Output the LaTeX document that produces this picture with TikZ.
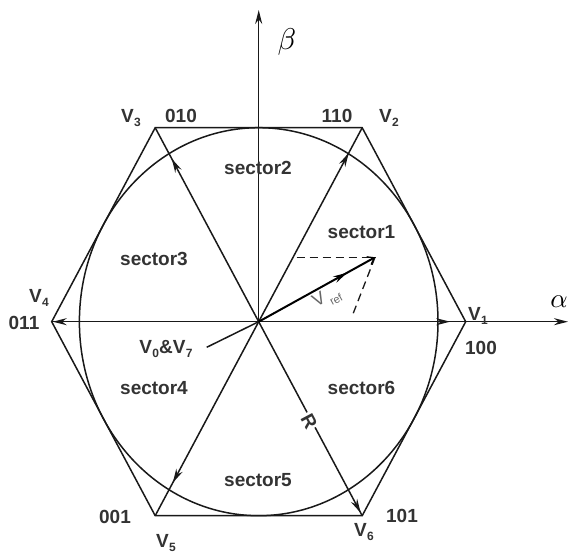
\documentclass[tikz,border=0pt]{standalone}
\usepackage{fontspec}
\setmainfont{Liberation Sans}
\usetikzlibrary{arrows.meta,decorations.markings}
\newcommand{\Vlab}[1]{V\kern0.3pt\raisebox{-0.45ex}{\fontsize{12}{12}\selectfont #1}}
\tikzset{
  ln/.style={line width=1.5pt, draw=black!90},
  vec/.style={ln, postaction={decorate}, decoration={markings, mark=at position #1 with {\arrow{Stealth[length=14pt,width=7pt]}}}},
  lbl/.style={font=\fontsize{19}{19}\selectfont\bfseries, text=black!80, inner sep=0pt},
  dsh/.style={line width=1.3pt, draw=black!90, dash pattern=on 8pt off 5pt},
}
\begin{document}
\begin{tikzpicture}[x=1pt,y=-1pt]
\fill[white] (0,0) rectangle (571,553);
\useasboundingbox (0,0) rectangle (571,553);
% key points
\coordinate (C) at (258.7,321.7);
\coordinate (V1) at (465.7,321.7);
\coordinate (V2) at (362.2,127.7);
\coordinate (V3) at (155.2,127.7);
\coordinate (V4) at (51.7,321.7);
\coordinate (V5) at (155.2,515.7);
\coordinate (V6) at (362.2,515.7);
\coordinate (A) at (568,321.7);
\coordinate (B) at (258.7,10);
\coordinate (T) at (375,257.3);
\coordinate (H) at (296.7,257.3);
\coordinate (F) at (351.7,317.3);
\coordinate (P) at (206.7,347.3);
% hexagon and circle
\draw[ln] (V1) -- (V2) -- (V3) -- (V4) -- (V5) -- (V6) -- cycle;
\draw[ln] (C) ellipse [x radius=179.3pt, y radius=194pt];
% axes
\draw[ln, -{Stealth[length=14pt,width=7pt]}] (C) -- (A);
\draw[ln, -{Stealth[length=14pt,width=7pt]}] (C) -- (B);
% basic vectors
\draw[vec=0.925] (C) -- (V1);
\draw[vec=0.87] (C) -- (V2);
\draw[vec=0.84] (C) -- (V3);
\draw[vec=0.995] (C) -- (V4);
\draw[vec=0.83] (C) -- (V5);
\draw[vec=0.985] (C) -- (V6);
% zero vector pointer
\draw[ln] (P) -- (C);
% reference vector
\draw[dsh] (H) -- (T);
\draw[dsh] (T) -- (F);
\draw[line width=2pt, draw=black, postaction={decorate}, decoration={markings, mark=at position 0.76 with {\arrow{Stealth[length=14pt,width=7pt]}}}, -{Straight Barb[length=6pt,width=9pt,line width=1.2pt]}] (C) -- (T);
% labels
\node[lbl] (lV3) at (131,118) {\Vlab{3}};
\node[lbl] (l010) at (181,116) {010};
\node[lbl] (l110) at (337,116) {110};
\node[lbl] (lV2) at (389,118) {\Vlab{2}};
\node[lbl] (lV4) at (39,298) {\Vlab{4}};
\node[lbl] (l011) at (24,323) {011};
\node[lbl] (lV1) at (478,316) {\Vlab{1}};
\node[lbl] (l100) at (481,348) {100};
\node[lbl] (l001) at (115,517) {001};
\node[lbl] (lV5) at (166,543) {\Vlab{5}};
\node[lbl] (lV6) at (364,532) {\Vlab{6}};
\node[lbl] (l101) at (402,516) {101};
\node[lbl] (s1) at (361.5,232) {sector1};
\node[lbl] (s2) at (258,167.7) {sector2};
\node[lbl] (s3) at (154,258.6) {sector3};
\node[lbl] (s4) at (154,387.7) {sector4};
\node[lbl] (s5) at (258,479.7) {sector5};
\node[lbl] (s6) at (361.5,387.7) {sector6};
\node[lbl] (l07) at (166,349) {V\kern0.3pt\raisebox{-0.45ex}{\fontsize{12}{12}\selectfont 0}\&\Vlab{7}};
\node[lbl, rotate=29, text=black!60, font=\fontsize{18}{18}\selectfont] (lref) at (327,298) {V\kern2.5pt\raisebox{-0.7ex}{\fontsize{11}{11}\selectfont ref}};
\node[lbl, rotate=-62, fill=white, inner sep=1.5pt] (lR) at (309,421) {R};
\node[inner sep=0pt] (beta) at (287,42) {\scalebox{3}{$\beta$}};
\node[inner sep=0pt] (alpha) at (559,302) {\scalebox{2.7}{$\alpha$}};
\end{tikzpicture}
\end{document}
